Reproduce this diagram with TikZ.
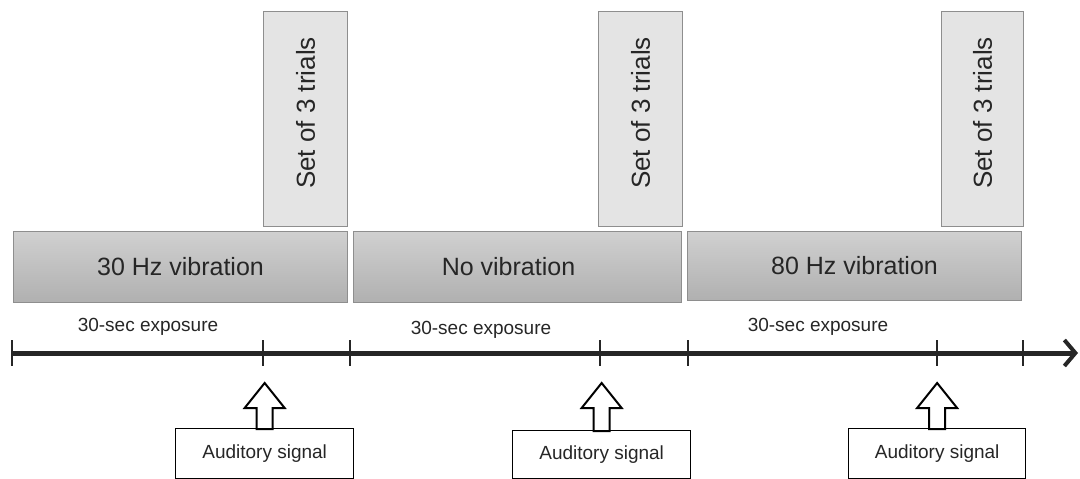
\documentclass[tikz,border=0pt]{standalone}
\usepackage{fontspec}
\setmainfont{Liberation Sans}
\usetikzlibrary{arrows.meta,calc}
\definecolor{bartop}{HTML}{D0D0D0}
\definecolor{barbot}{HTML}{B0B0B0}
\definecolor{barline}{HTML}{8E8E8E}
\definecolor{trialfill}{HTML}{E4E4E4}
\tikzset{
  bar/.style={draw=barline, line width=1pt, top color=bartop, bottom color=barbot, anchor=north west, inner sep=0pt},
  bartext/.style={font=\fontsize{25}{30}\selectfont, text=black!85},
  trial/.style={draw=barline, line width=1pt, fill=trialfill, anchor=north west, inner sep=0pt},
  trialtext/.style={rotate=90, font=\fontsize{26}{31}\selectfont, text=black!85},
  expo/.style={font=\fontsize{19}{23}\selectfont, text=black!85},
  sig/.style={draw=black, line width=1.3pt, fill=white, anchor=north west, inner sep=0pt},
  sigtext/.style={font=\fontsize{19}{23}\selectfont, text=black!85},
  tick/.style={line width=1.6pt, black!85},
  hollow/.style={draw=black, line width=2pt, fill=white, line join=miter}
}
\begin{document}
\begin{tikzpicture}[x=1pt,y=-1pt]
\useasboundingbox (0,0) rectangle (1080,479);
% gray bars
\node[bar, minimum width=334pt, minimum height=71pt] (b1) at (13,231) {};
\node[bartext] (b1t) at (b1.center) {30 Hz vibration};
\node[bar, minimum width=328pt, minimum height=71pt] (b2) at (353,231) {};
\node[bartext] (b2t) at ($(b2.center)+(-9,0)$) {No vibration};
\node[bar, minimum width=334pt, minimum height=69pt] (b3) at (687,231) {};
\node[bartext] (b3t) at (b3.center) {80 Hz vibration};
% trial boxes
\node[trial, minimum width=84pt, minimum height=215pt] (s1) at (263,11) {};
\node[trialtext] (s1t) at ($(s1.center)+(0,-6)$) {Set of 3 trials};
\node[trial, minimum width=84pt, minimum height=215pt] (s2) at (598,11) {};
\node[trialtext] (s2t) at ($(s2.center)+(0,-6)$) {Set of 3 trials};
\node[trial, minimum width=82pt, minimum height=215pt] (s3) at (941,11) {};
\node[trialtext] (s3t) at ($(s3.center)+(0,-6)$) {Set of 3 trials};
% timeline
\coordinate (tstart) at (12,353);
\coordinate (tend) at (1078,353);
\draw[line width=5pt, black!85, -{Straight Barb[length=11pt,width=26pt,line width=4pt]}] (tstart) -- (tend);
\foreach \x/\n in {12/k0,263/k1,350/k2,600/k3,688/k4,937/k5,1023/k6}{
  \coordinate (\n) at (\x,353);
  \draw[tick] ($(\n)+(0,-13)$) -- ($(\n)+(0,13)$);
}
% exposure labels
\node[expo] (e1) at (148,327) {30-sec exposure};
\node[expo] (e2) at (481,330) {30-sec exposure};
\node[expo] (e3) at (818,327) {30-sec exposure};
% auditory signals
\node[sig, minimum width=178pt, minimum height=50pt] (a1) at (175,428) {};
\node[sigtext] (a1t) at (a1.center) {Auditory signal};
\node[sig, minimum width=178pt, minimum height=48pt] (a2) at (512,430) {};
\node[sigtext] (a2t) at (a2.center) {Auditory signal};
\node[sig, minimum width=177pt, minimum height=50pt] (a3) at (848,428) {};
\node[sigtext] (a3t) at (a3.center) {Auditory signal};
% hollow arrows
\foreach \a/\k in {a1/k1,a2/k3,a3/k5}{
  \path (\k) ++(0,30) coordinate (tip);
  \path (\a.north) coordinate (base);
  \draw[hollow] (tip -| base) -- ++(20,25) -- ++(-12,0) -- ($(base)+(8,1)$) -- ($(base)+(-8,1)$) -- ($(tip -| base)+(-8,25)$) -- ($(tip -| base)+(-20,25)$) -- cycle;
}
\end{tikzpicture}
\end{document}
